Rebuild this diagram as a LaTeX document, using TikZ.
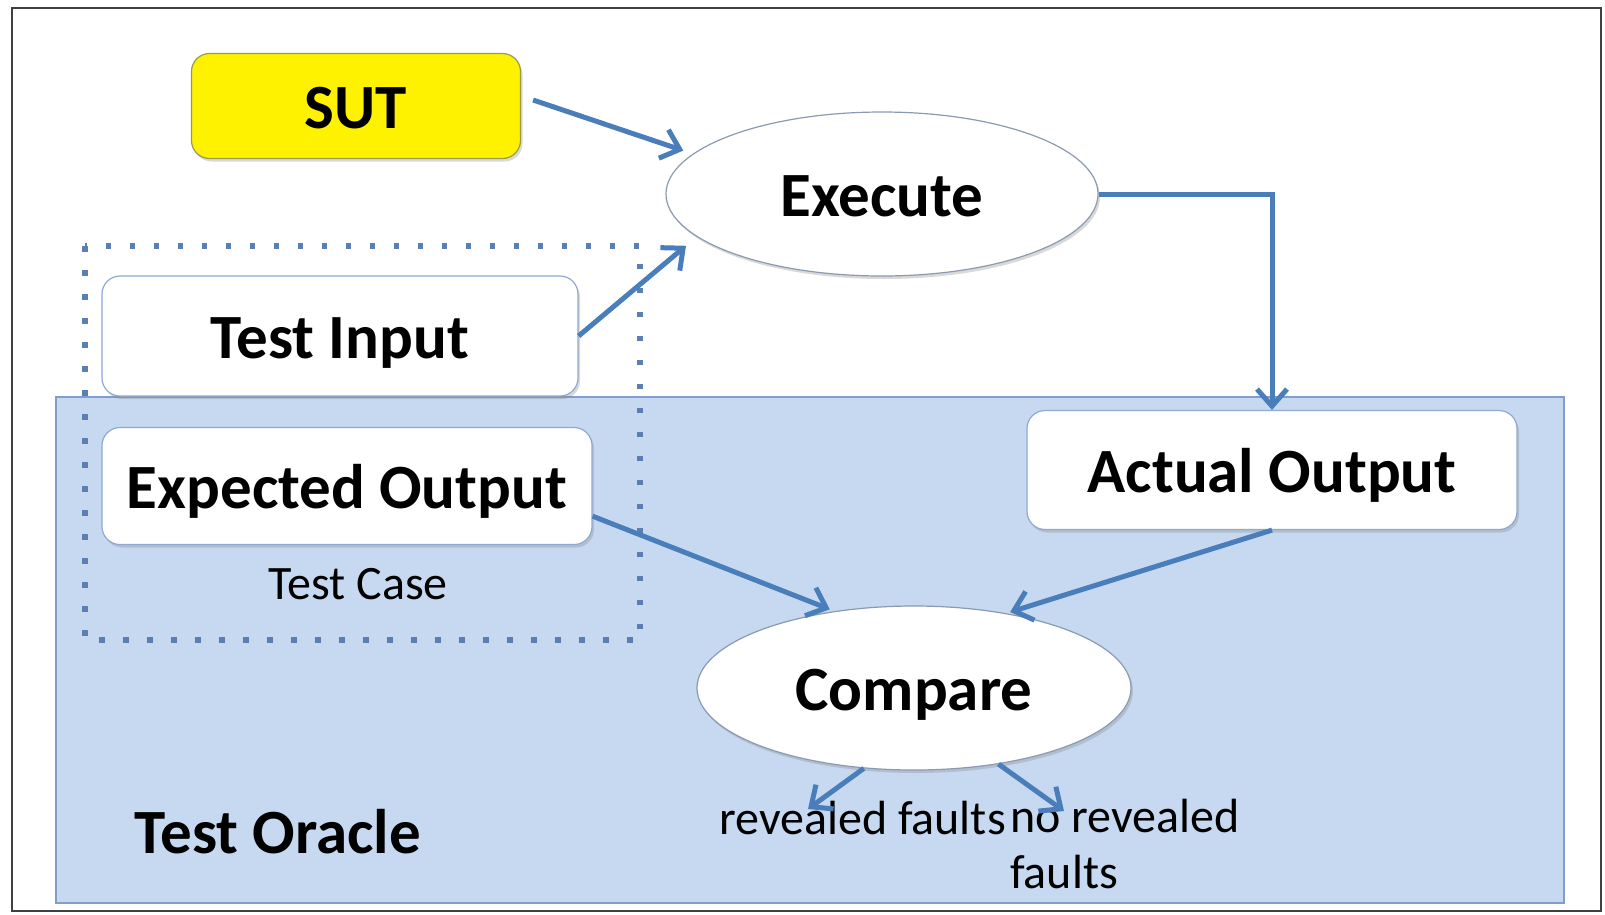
\documentclass[tikz,border=0pt]{standalone}
\usepackage{fontspec}
\setmainfont{Carlito}
\usetikzlibrary{shapes.geometric,arrows.meta,shadows}
\definecolor{arrowblue}{HTML}{4A7EBB}
\definecolor{oraclefill}{HTML}{C6D9F1}
\definecolor{oracleline}{HTML}{7F9FCB}
\definecolor{boxline}{HTML}{8EAAD0}
\definecolor{sutline}{HTML}{9A9A50}
\definecolor{ellline}{HTML}{8A9AB0}
\definecolor{dotblue}{HTML}{5B7FB5}
\begin{document}
\begin{tikzpicture}[x=1pt,y=-1pt,
  bigtxt/.style={font=\fontsize{63}{70}\selectfont\bfseries},
  smalltxt/.style={font=\fontsize{48}{56}\selectfont},
  rbox/.style={draw=boxline, line width=1.2pt, fill=white, rounded corners=18pt,
    inner sep=0pt, bigtxt, text height=44pt, text depth=0pt,
    drop shadow={shadow xshift=2pt, shadow yshift=-3pt, opacity=0.3}},
  sutbox/.style={rbox, draw=sutline, fill=yellow},
  oval/.style={ellipse, draw=ellline, line width=1.2pt, fill=white, inner sep=0pt, bigtxt,
    text height=44pt, text depth=0pt,
    drop shadow={shadow xshift=2pt, shadow yshift=-3pt, opacity=0.3}},
  arr/.style={draw=arrowblue, line width=5pt,
    -{Straight Barb[length=17pt,width=30pt,line width=5pt]}},
  plaintxt/.style={inner sep=0pt, smalltxt}
]
\useasboundingbox (0,0) rectangle (1605,914);
\draw[line width=1.5pt, draw=black!75] (12,8) rectangle (1601,911);

% Test Oracle area
\path[fill=oraclefill, draw=oracleline, line width=1.5pt] (56,397) rectangle (1564,903);

% Test Case dotted box
\draw[dotblue, line width=5.5pt, dash pattern=on 5.5pt off 18.5pt] (85,246) rectangle (640,640);

% Nodes
\node[sutbox, minimum width=329pt, minimum height=105pt] (sut) at (356,106) {SUT};
\node[oval, minimum width=432pt, minimum height=164pt] (exec) at (882,194) {Execute};
\node[rbox, minimum width=476pt, minimum height=120pt] (input) at (340,336) {Test Input};
\node[rbox, minimum width=490pt, minimum height=117pt] (expected) at (347,486) {Expected Output};
\node[rbox, minimum width=490pt, minimum height=119pt] (actual) at (1272,470) {Actual Output};
\node[oval, minimum width=434pt, minimum height=164pt] (compare) at (914,688) {Compare};

\node[plaintxt, anchor=base] (testcase) at (358,599) {Test Case};
\node[inner sep=0pt, bigtxt, anchor=base] (oracle) at (278,853) {Test Oracle};
\node[plaintxt, anchor=base west] (revealed) at (719,834) {revealed faults};
\node[plaintxt, align=left, anchor=north west] (norevealed) at (1010,799) {no revealed\\faults};

% Connectors
\draw[arr, shorten >=10pt] ([xshift=12pt,yshift=6pt]sut.east) -- (exec.168);
\draw[arr, shorten >=14pt] (input.east) -- (exec.193);
\draw[arr] (exec.east) -| (actual.north);
\draw[arr, shorten >=5pt] (expected.-7) -- (compare.136);
\draw[arr, shorten >=4pt] (actual.south) -- (compare.39);
\draw[arr] (compare.238) -- ([xshift=89pt,yshift=25pt]revealed.base west);
\draw[arr] (compare.318) -- ([xshift=54pt,yshift=-12pt]norevealed.north west);
\end{tikzpicture}
\end{document}
